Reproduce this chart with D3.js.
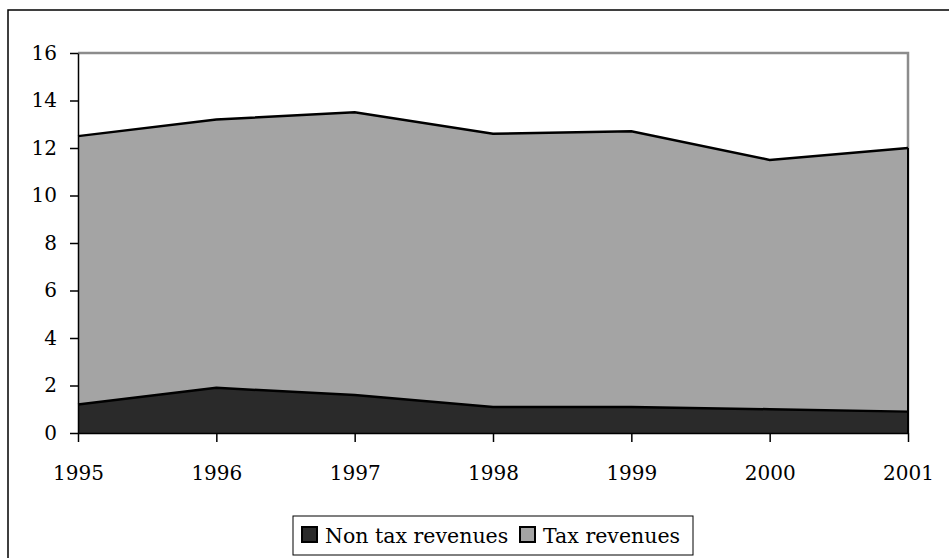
<!DOCTYPE html>
<html>
<head>
<meta charset="utf-8">
<script src="https://cdn.jsdelivr.net/npm/d3@7"></script>
<style>
  body { margin: 0; background: #fff; }
</style>
</head>
<body>
<script>
const width = 949;
const height = 558;
const font = "DejaVu Serif";

// data
var years = [1995, 1996, 1997, 1998, 1999, 2000, 2001];
var non_tax = [1.2, 1.9, 1.6, 1.1, 1.1, 1.0, 0.9];
var tax = [11.3, 11.3, 11.9, 11.5, 11.6, 10.5, 11.1];
var series_names = ["Non tax revenues", "Tax revenues"];
var y_ticks = [0, 2, 4, 6, 8, 10, 12, 14, 16];

var colors = ["#2a2a2a", "#a4a4a4"];

var plot = {left: 78, right: 908, top: 53, bottom: 433};

var svg = d3.select("body")
  .append("svg")
  .attr("width", width)
  .attr("height", height);

// outer chart border (runs off the picture on right and bottom)
svg.append("rect")
  .attr("x", 8).attr("y", 10)
  .attr("width", 960).attr("height", 570)
  .attr("fill", "#fff")
  .attr("stroke", "#000")
  .attr("stroke-width", 1.5);

var xScale = d3.scaleLinear()
  .domain([years[0], years[years.length - 1]])
  .range([plot.left, plot.right]);

var yScale = d3.scaleLinear()
  .domain([0, 16])
  .range([plot.bottom, plot.top]);

var table = years.map(function(y, i){
  return {year: y, "Non tax revenues": non_tax[i], "Tax revenues": tax[i]};
});

var stacked = d3.stack().keys(series_names)(table);

var area = d3.area()
  .x(function(d){ return xScale(d.data.year); })
  .y0(function(d){ return yScale(d[0]); })
  .y1(function(d){ return yScale(d[1]); });

var line = d3.line()
  .x(function(d){ return xScale(d.data.year); })
  .y(function(d){ return yScale(d[1]); });

// plot area frame (grey on top/right)
svg.append("path")
  .attr("d", "M" + plot.left + "," + plot.top + "H" + plot.right + "V" + plot.bottom)
  .attr("fill", "none")
  .attr("stroke", "#8c8c8c")
  .attr("stroke-width", 2.5);

svg.selectAll(".layer")
  .data(stacked)
  .enter()
  .append("path")
    .attr("class", "layer")
    .attr("d", area)
    .attr("fill", function(d, i){ return colors[i]; })
    .attr("stroke", "none");

svg.selectAll(".topline")
  .data(stacked)
  .enter()
  .append("path")
    .attr("class", "topline")
    .attr("d", line)
    .attr("fill", "none")
    .attr("stroke", "#000")
    .attr("stroke-width", 2.5);

// right edge of the areas
svg.append("line")
  .attr("x1", plot.right).attr("x2", plot.right)
  .attr("y1", yScale(non_tax[6] + tax[6])).attr("y2", plot.bottom)
  .attr("stroke", "#000").attr("stroke-width", 2);

// axes
var yAxis = svg.append("g")
  .attr("transform", "translate(" + plot.left + ",0)")
  .call(d3.axisLeft(yScale).tickValues(y_ticks).tickSize(8).tickPadding(13).tickSizeOuter(0));

var xAxis = svg.append("g")
  .attr("transform", "translate(0," + plot.bottom + ")")
  .call(d3.axisBottom(xScale).tickValues(years).tickFormat(d3.format("d")).tickSize(9).tickPadding(24).tickSizeOuter(0));

[yAxis, xAxis].forEach(function(ax){
  ax.attr("font-family", font).attr("font-size", 20);
  ax.selectAll("path.domain").attr("stroke", "#000").attr("stroke-width", 1.5);
  ax.selectAll(".tick line").attr("stroke", "#000").attr("stroke-width", 1.5);
  ax.selectAll("text").attr("fill", "#000");
});

// legend
var legend = svg.append("g").attr("class", "legend")
  .attr("font-family", font).attr("font-size", 20.5);
legend.append("rect")
  .attr("x", 293).attr("y", 516)
  .attr("width", 400).attr("height", 39)
  .attr("fill", "#fff")
  .attr("stroke", "#000")
  .attr("stroke-width", 1);

var legend_x = [302, 520];
series_names.forEach(function(name, i){
  legend.append("rect")
    .attr("x", legend_x[i]).attr("y", 527)
    .attr("width", 15).attr("height", 15)
    .attr("fill", colors[i])
    .attr("stroke", "#000")
    .attr("stroke-width", 2);
  legend.append("text")
    .attr("x", legend_x[i] + 23)
    .attr("y", 543)
    .attr("fill", "#000")
    .text(name);
});
</script>
</body>
</html>
